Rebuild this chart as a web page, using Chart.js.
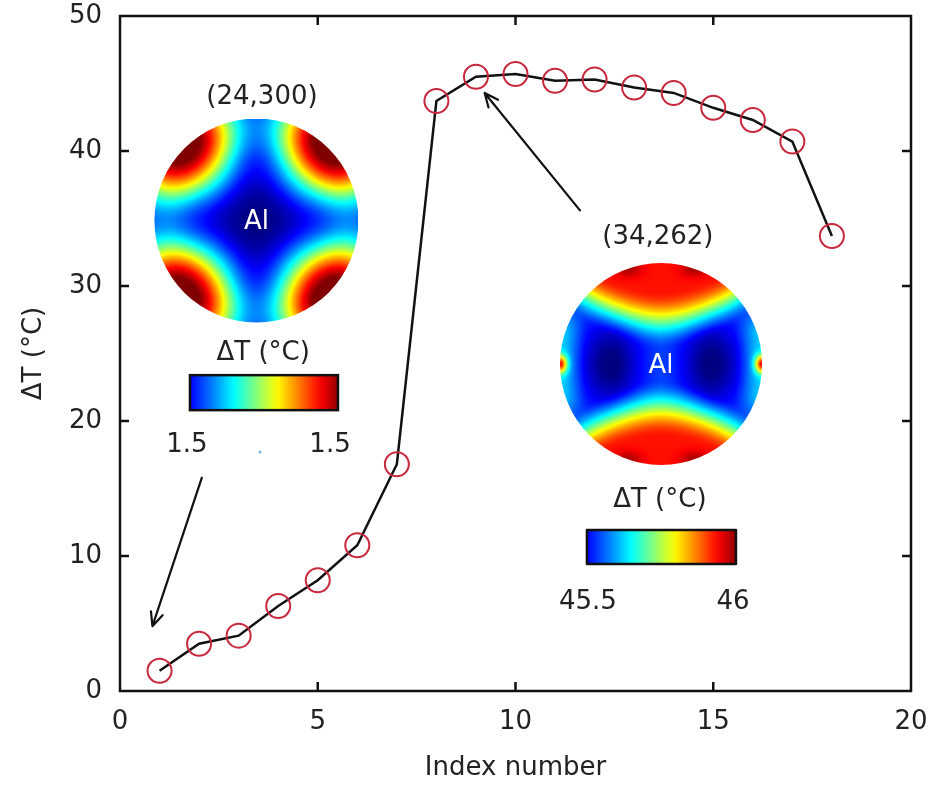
<!DOCTYPE html>
<html lang="en">
<head>
<meta charset="UTF-8">
<title>ΔT vs Index number</title>
<script src="https://cdn.jsdelivr.net/npm/chart.js"></script>
<style>
  html, body { margin: 0; padding: 0; background: #fff; }
  #wrap { width: 935px; height: 785px; }
</style>
</head>
<body>
<div id="wrap"><canvas id="chart"></canvas></div>
<script>
// temperature difference for each index
const indexNumbers = [1, 2, 3, 4, 5, 6, 7, 8, 9, 10, 11, 12, 13, 14, 15, 16, 17, 18];
const deltaT = [1.5, 3.5, 4.1, 6.3, 8.2, 10.8, 16.8, 43.7, 45.5, 45.7, 45.2, 45.3, 44.7, 44.3, 43.2, 42.3, 40.7, 33.7];

// axis ticks
const xTickValues = [0, 5, 10, 15, 20];
const yTickValues = [0, 10, 20, 30, 40, 50];

// inset maps: label, colour-bar end values
const insetLabels = ['(24,300)', '(34,262)'];
const insetMin = ['1.5', '45.5'];
const insetMax = ['1.5', '46'];

const FONT = "'DejaVu Sans', Arial, sans-serif";
const TXT = '#222';

function clamp(v) { return Math.max(0, Math.min(1, v)); }
function jet(t) {
  return [
    Math.round(255 * clamp(1.5 - Math.abs(4 * t - 3))),
    Math.round(255 * clamp(1.5 - Math.abs(4 * t - 2))),
    Math.round(255 * clamp(1.5 - Math.abs(4 * t - 1)))
  ];
}
function smoothstep(a, b, x) {
  const s = clamp((x - a) / (b - a));
  return s * s * (3 - 2 * s);
}

// hot corners at the four diagonals
function fieldA(u, v) {
  let t = -0.02;
  for (const [cx, cy] of [[0.76, 0.76], [-0.76, 0.76], [0.76, -0.76], [-0.76, -0.76]]) {
    const d = Math.hypot(u - cx, v - cy);
    t += 1.0 * Math.exp(-Math.pow(d / 0.55, 2.5));
  }
  // lighter blue toward the rim between the corners
  t += 0.1 * smoothstep(0.55, 1.0, Math.hypot(u, v));
  return t;
}

// hot caps at top and bottom, cold lobes left and right
function fieldB(u, v) {
  const a = Math.abs(v), b = Math.abs(u);
  let t = 0.2 + 0.66 * smoothstep(0.15, 0.72, a - 0.45 * b * b);
  t += 0.14 * smoothstep(0.7, 1.0, b) * (1 - smoothstep(0.3, 0.6, a));
  t -= 0.21 * Math.exp(-(((b - 0.5) / 0.3) ** 2 + (v / 0.42) ** 2));
  t += 0.55 * Math.exp(-(((b - 1) / 0.07) ** 2 + (v / 0.09) ** 2));
  t += 0.1 * Math.exp(-(((b - 0.33) / 0.14) ** 2 + ((a - 0.95) / 0.09) ** 2));
  return t;
}

function makeMap(field, r) {
  const n = 2 * r;
  const c = document.createElement('canvas');
  c.width = n; c.height = n;
  const g = c.getContext('2d');
  const img = g.createImageData(n, n);
  for (let j = 0; j < n; j++) {
    for (let i = 0; i < n; i++) {
      const u = (i + 0.5 - r) / r, v = (j + 0.5 - r) / r;
      const [R, G, B] = jet(clamp(field(u, v)));
      const k = 4 * (j * n + i);
      img.data[k] = R; img.data[k + 1] = G; img.data[k + 2] = B; img.data[k + 3] = 255;
    }
  }
  g.putImageData(img, 0, 0);
  return c;
}

// inset anchors in data units, sizes in pixels
const insets = [
  { field: fieldA, r: 102, map: [3.45, 34.85], label: [3.59, 44.0], cbTitle: [3.62, 25.0],
    bar: [3.64, 22.1], barW: 148, barH: 35, lo: [1.69, 18.2], hi: [5.31, 18.2],
    arrow: [[2.07, 15.8], [0.82, 4.8]] },
  { field: fieldB, r: 101, map: [13.68, 24.22], label: [13.6, 33.6], cbTitle: [13.65, 14.1],
    bar: [13.69, 10.67], barW: 149, barH: 34, lo: [11.83, 6.6], hi: [15.5, 6.6],
    arrow: [[11.63, 35.6], [9.22, 44.3]] }
];

function drawArrow(ctx, x0, y0, x1, y1) {
  const ang = Math.atan2(y1 - y0, x1 - x0), h = 15, w = 0.42;
  ctx.beginPath();
  ctx.moveTo(x0, y0); ctx.lineTo(x1, y1);
  ctx.moveTo(x1 - h * Math.cos(ang - w), y1 - h * Math.sin(ang - w));
  ctx.lineTo(x1, y1);
  ctx.lineTo(x1 - h * Math.cos(ang + w), y1 - h * Math.sin(ang + w));
  ctx.stroke();
}

const insetPlugin = {
  id: 'insets',
  beforeDatasetsDraw(chart) {
    const { ctx, scales: { x, y } } = chart;
    const P = p => [x.getPixelForValue(p[0]), y.getPixelForValue(p[1])];
    ctx.save();
    insets.forEach((s, k) => {
      if (!s.canvas) s.canvas = makeMap(s.field, s.r);
      const [mx, my] = P(s.map);
      ctx.save();
      ctx.beginPath(); ctx.arc(mx, my, s.r, 0, Math.PI * 2); ctx.clip();
      ctx.drawImage(s.canvas, mx - s.r, my - s.r);
      ctx.restore();

      ctx.textAlign = 'center'; ctx.textBaseline = 'middle';
      ctx.fillStyle = '#fff'; ctx.font = '26px ' + FONT;
      ctx.fillText('Al', mx, my + 2);

      ctx.fillStyle = TXT;
      ctx.fillText(insetLabels[k], ...P(s.label));
      ctx.fillText('ΔT (°C)', ...P(s.cbTitle));
      ctx.fillText(insetMin[k], ...P(s.lo));
      ctx.fillText(insetMax[k], ...P(s.hi));

      // colour bar
      const [bx, by] = P(s.bar);
      const x0 = bx - s.barW / 2, y0 = by - s.barH / 2;
      const grad = ctx.createLinearGradient(x0, 0, x0 + s.barW, 0);
      for (let i = 0; i <= 20; i++) {
        const [R, G, B] = jet(0.12 + 0.86 * i / 20);
        grad.addColorStop(i / 20, `rgb(${R},${G},${B})`);
      }
      ctx.fillStyle = grad;
      ctx.fillRect(x0, y0, s.barW, s.barH);
      ctx.lineWidth = 2.5; ctx.strokeStyle = '#111';
      ctx.strokeRect(x0, y0, s.barW, s.barH);

      // pointer to the sample
      ctx.lineWidth = 2.2; ctx.lineCap = 'round'; ctx.lineJoin = 'round';
      const [a0, a1] = s.arrow.map(P);
      drawArrow(ctx, a0[0], a0[1], a1[0], a1[1]);
    });
    // small speck under the first colour bar
    ctx.fillStyle = '#8ab8dc';
    ctx.beginPath();
    ctx.arc(x.getPixelForValue(3.54), y.getPixelForValue(17.7), 1.6, 0, Math.PI * 2);
    ctx.fill();
    ctx.restore();
  }
};

// box frame with inward ticks on all four sides
const framePlugin = {
  id: 'frame',
  afterDraw(chart) {
    const { ctx, chartArea: a, scales: { x, y } } = chart;
    const L = 9;
    ctx.save();
    ctx.strokeStyle = '#111'; ctx.lineWidth = 2.5;
    ctx.strokeRect(a.left, a.top, a.right - a.left, a.bottom - a.top);
    ctx.beginPath();
    xTickValues.slice(1, -1).forEach(v => {
      const px = x.getPixelForValue(v);
      ctx.moveTo(px, a.bottom); ctx.lineTo(px, a.bottom - L);
      ctx.moveTo(px, a.top); ctx.lineTo(px, a.top + L);
    });
    yTickValues.slice(1, -1).forEach(v => {
      const py = y.getPixelForValue(v);
      ctx.moveTo(a.left, py); ctx.lineTo(a.left + L, py);
      ctx.moveTo(a.right, py); ctx.lineTo(a.right - L, py);
    });
    ctx.stroke();
    ctx.restore();
  }
};

new Chart(document.getElementById('chart'), {
  type: 'line',
  data: {
    datasets: [{
      data: indexNumbers.map((n, i) => ({ x: n, y: deltaT[i] })),
      borderColor: '#111',
      borderWidth: 2.5,
      tension: 0,
      pointRadius: 12,
      pointBorderWidth: 2,
      pointBorderColor: '#c8283c',
      pointBackgroundColor: 'rgba(0,0,0,0)'
    }]
  },
  options: {
    responsive: true,
    maintainAspectRatio: false,
    devicePixelRatio: 1,
    animation: false,
    layout: { padding: { left: 0, right: 24, top: 16, bottom: 0 } },
    plugins: { legend: { display: false }, tooltip: { enabled: false } },
    scales: {
      x: {
        type: 'linear', min: 0, max: 20,
        afterBuildTicks: s => { s.ticks = xTickValues.map(v => ({ value: v })); },
        afterFit: s => { s.height = 94; s.paddingLeft = 0; s.paddingRight = 0; },
        grid: { display: false, drawTicks: false },
        border: { display: false },
        ticks: { color: TXT, font: { family: FONT, size: 26 }, padding: 16 },
        title: { display: true, text: 'Index number', color: TXT,
                 font: { family: FONT, size: 26 }, padding: { bottom: 1 } }
      },
      y: {
        type: 'linear', min: 0, max: 50,
        afterBuildTicks: s => { s.ticks = yTickValues.map(v => ({ value: v })); },
        afterFit: s => { s.width = 120; s.paddingTop = 0; s.paddingBottom = 0; },
        grid: { display: false, drawTicks: false },
        border: { display: false },
        ticks: { color: TXT, font: { family: FONT, size: 26 }, padding: 18 },
        title: { display: true, text: 'ΔT (°C)', color: TXT,
                 font: { family: FONT, size: 26 }, padding: { top: 19 } }
      }
    }
  },
  plugins: [insetPlugin, framePlugin]
});
</script>
</body>
</html>
